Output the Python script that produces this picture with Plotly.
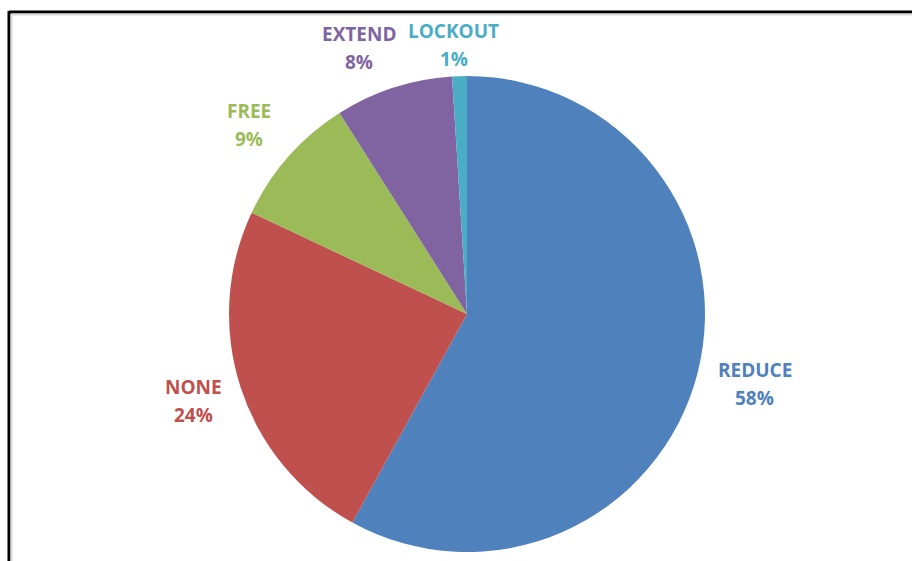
import math
import plotly.graph_objects as go

labels = ["REDUCE", "NONE", "FREE", "EXTEND", "LOCKOUT"]
values = [58, 24, 9, 8, 1]
colors = ["#4F81BD", "#C0504D", "#9BBB59", "#8064A2", "#4BACC6"]

W, H = 912, 561
cx, cy, R = 467, 314, 238  # pie centre / radius in px
label_dist = [1.24, 1.21, 1.22, 1.21, 1.13]
label_nudge = [(2, -3), (0, -2), (0, 3), (-19, 8), (-5, 0)]

fig = go.Figure()
fig.add_trace(go.Pie(
    labels=labels, values=values, sort=False, direction="clockwise", rotation=0,
    marker=dict(colors=colors, line=dict(width=0)),
    textinfo="none", hoverinfo="label+percent", showlegend=False,
    domain=dict(x=[(cx - R) / W, (cx + R) / W], y=[1 - (cy + R) / H, 1 - (cy - R) / H]),
))

total = sum(values)
cum = 0
annotations = []
for lab, v, col, d, (nx, ny) in zip(labels, values, colors, label_dist, label_nudge):
    mid = (cum + v / 2) / total * 2 * math.pi
    cum += v
    px = cx + d * R * math.sin(mid) + nx
    py = cy - d * R * math.cos(mid) + ny
    pct = f"{round(v / total * 100)}%"
    for txt, off in ((lab, -14), (pct, 14)):
        annotations.append(dict(
            x=px / W, y=1 - (py + off) / H, xref="paper", yref="paper",
            text=f"<b>{txt}</b>", showarrow=False,
            font=dict(family="Open Sans", size=19, color=col),
            xanchor="center", yanchor="middle",
        ))

shapes = [
    dict(type="line", xref="paper", yref="paper", x0=9 / W, x1=1, y0=1 - 12 / H, y1=1 - 12 / H,
         line=dict(color="black", width=3)),
    dict(type="line", xref="paper", yref="paper", x0=9 / W, x1=9 / W, y0=1 - 11 / H, y1=0,
         line=dict(color="black", width=3)),
    dict(type="line", xref="paper", yref="paper", x0=11.5 / W, x1=1, y0=1 - 14.5 / H, y1=1 - 14.5 / H,
         line=dict(color="#D9D9D9", width=2)),
    dict(type="line", xref="paper", yref="paper", x0=11.5 / W, x1=11.5 / W, y0=1 - 14.5 / H, y1=0,
         line=dict(color="#D9D9D9", width=2)),
]

fig.update_layout(
    width=W, height=H, margin=dict(l=0, r=0, t=0, b=0),
    paper_bgcolor="white", plot_bgcolor="white",
    annotations=annotations, shapes=shapes,
)
fig.write_html("out.html")
